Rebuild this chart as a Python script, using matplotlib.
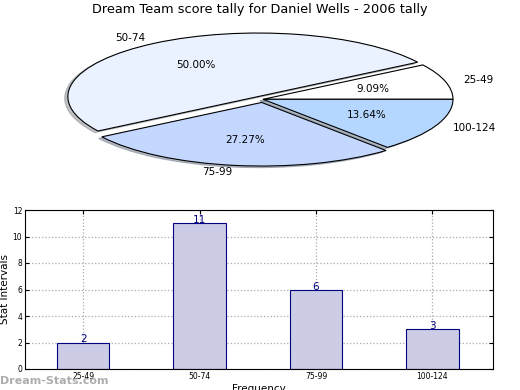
import matplotlib
matplotlib.use("Agg")
import matplotlib.pyplot as plt
import numpy as np

categories = ["25-49", "50-74", "75-99", "100-124"]
counts = [2, 11, 6, 3]
pie_colors = ["#ffffff", "#ebf2ff", "#c4d8ff", "#b4d6ff"]
explode = [0.0, 0.05, 0.05, 0.0]
title = "Dream Team score tally for Daniel Wells - 2006 tally"

fig = plt.figure(figsize=(5.2, 3.9), dpi=100)

# Pie axes (ellipse)
rx, ry = 190.0, 63.6
cx, cy = 263.0, 99.3
lim = 1.2
axp = fig.add_axes([(cx - lim * rx) / 520, 1 - (cy + lim * ry) / 390,
                    2 * lim * rx / 520, 2 * lim * ry / 390])
wedges, texts, autotexts = axp.pie(counts, labels=categories, colors=pie_colors,
                                   explode=explode, autopct="%.2f%%",
                                   shadow={"ox": -0.012, "oy": -0.018, "shade": 0.45},
                                   startangle=0, labeldistance=1.1, pctdistance=0.6,
                                   wedgeprops=dict(edgecolor="black", linewidth=0.8),
                                   textprops=dict(fontsize=7.5))
axp.set_aspect("auto")
axp.set_xlim(-lim, lim)
axp.set_ylim(-lim, lim)
axp.axis("off")
fig.text(0.5, 1 - 10 / 390, title, ha="center", va="center", fontsize=9.3)

# Bar axes
axb = fig.add_axes([25 / 520, 1 - 369 / 390, 468 / 520, 159 / 390])
x = np.arange(len(categories))
axb.bar(x, counts, width=0.45, color="#ccccE6", edgecolor="#000080", linewidth=0.8, zorder=2)
for xi, v in zip(x, counts):
    axb.text(xi, v, str(v), ha="center", va="baseline", color="#000080", fontsize=7.5, zorder=3)
axb.set_xlim(-0.5, 3.52)
axb.set_ylim(0, 12)
axb.set_yticks(range(0, 13, 2))
axb.set_xticks(x)
axb.set_xticklabels(categories)
axb.tick_params(axis="both", labelsize=5.5, direction="in", length=3, pad=2,
                top=True, right=True)
axb.grid(True, linestyle=":", color="#aaaaaa", linewidth=0.9, zorder=0)
axb.set_axisbelow(True)
axb.set_ylabel("Stat Intervals", fontsize=7.5, labelpad=2)
axb.set_xlabel("Frequency", fontsize=7.5, labelpad=2)

fig.text(0.0, 1 - 381 / 390, "Dream-Stats.com", ha="left", va="center",
         fontsize=8, fontweight="bold", color="#999999", alpha=0.8)

fig.savefig("out.png", dpi=100)
